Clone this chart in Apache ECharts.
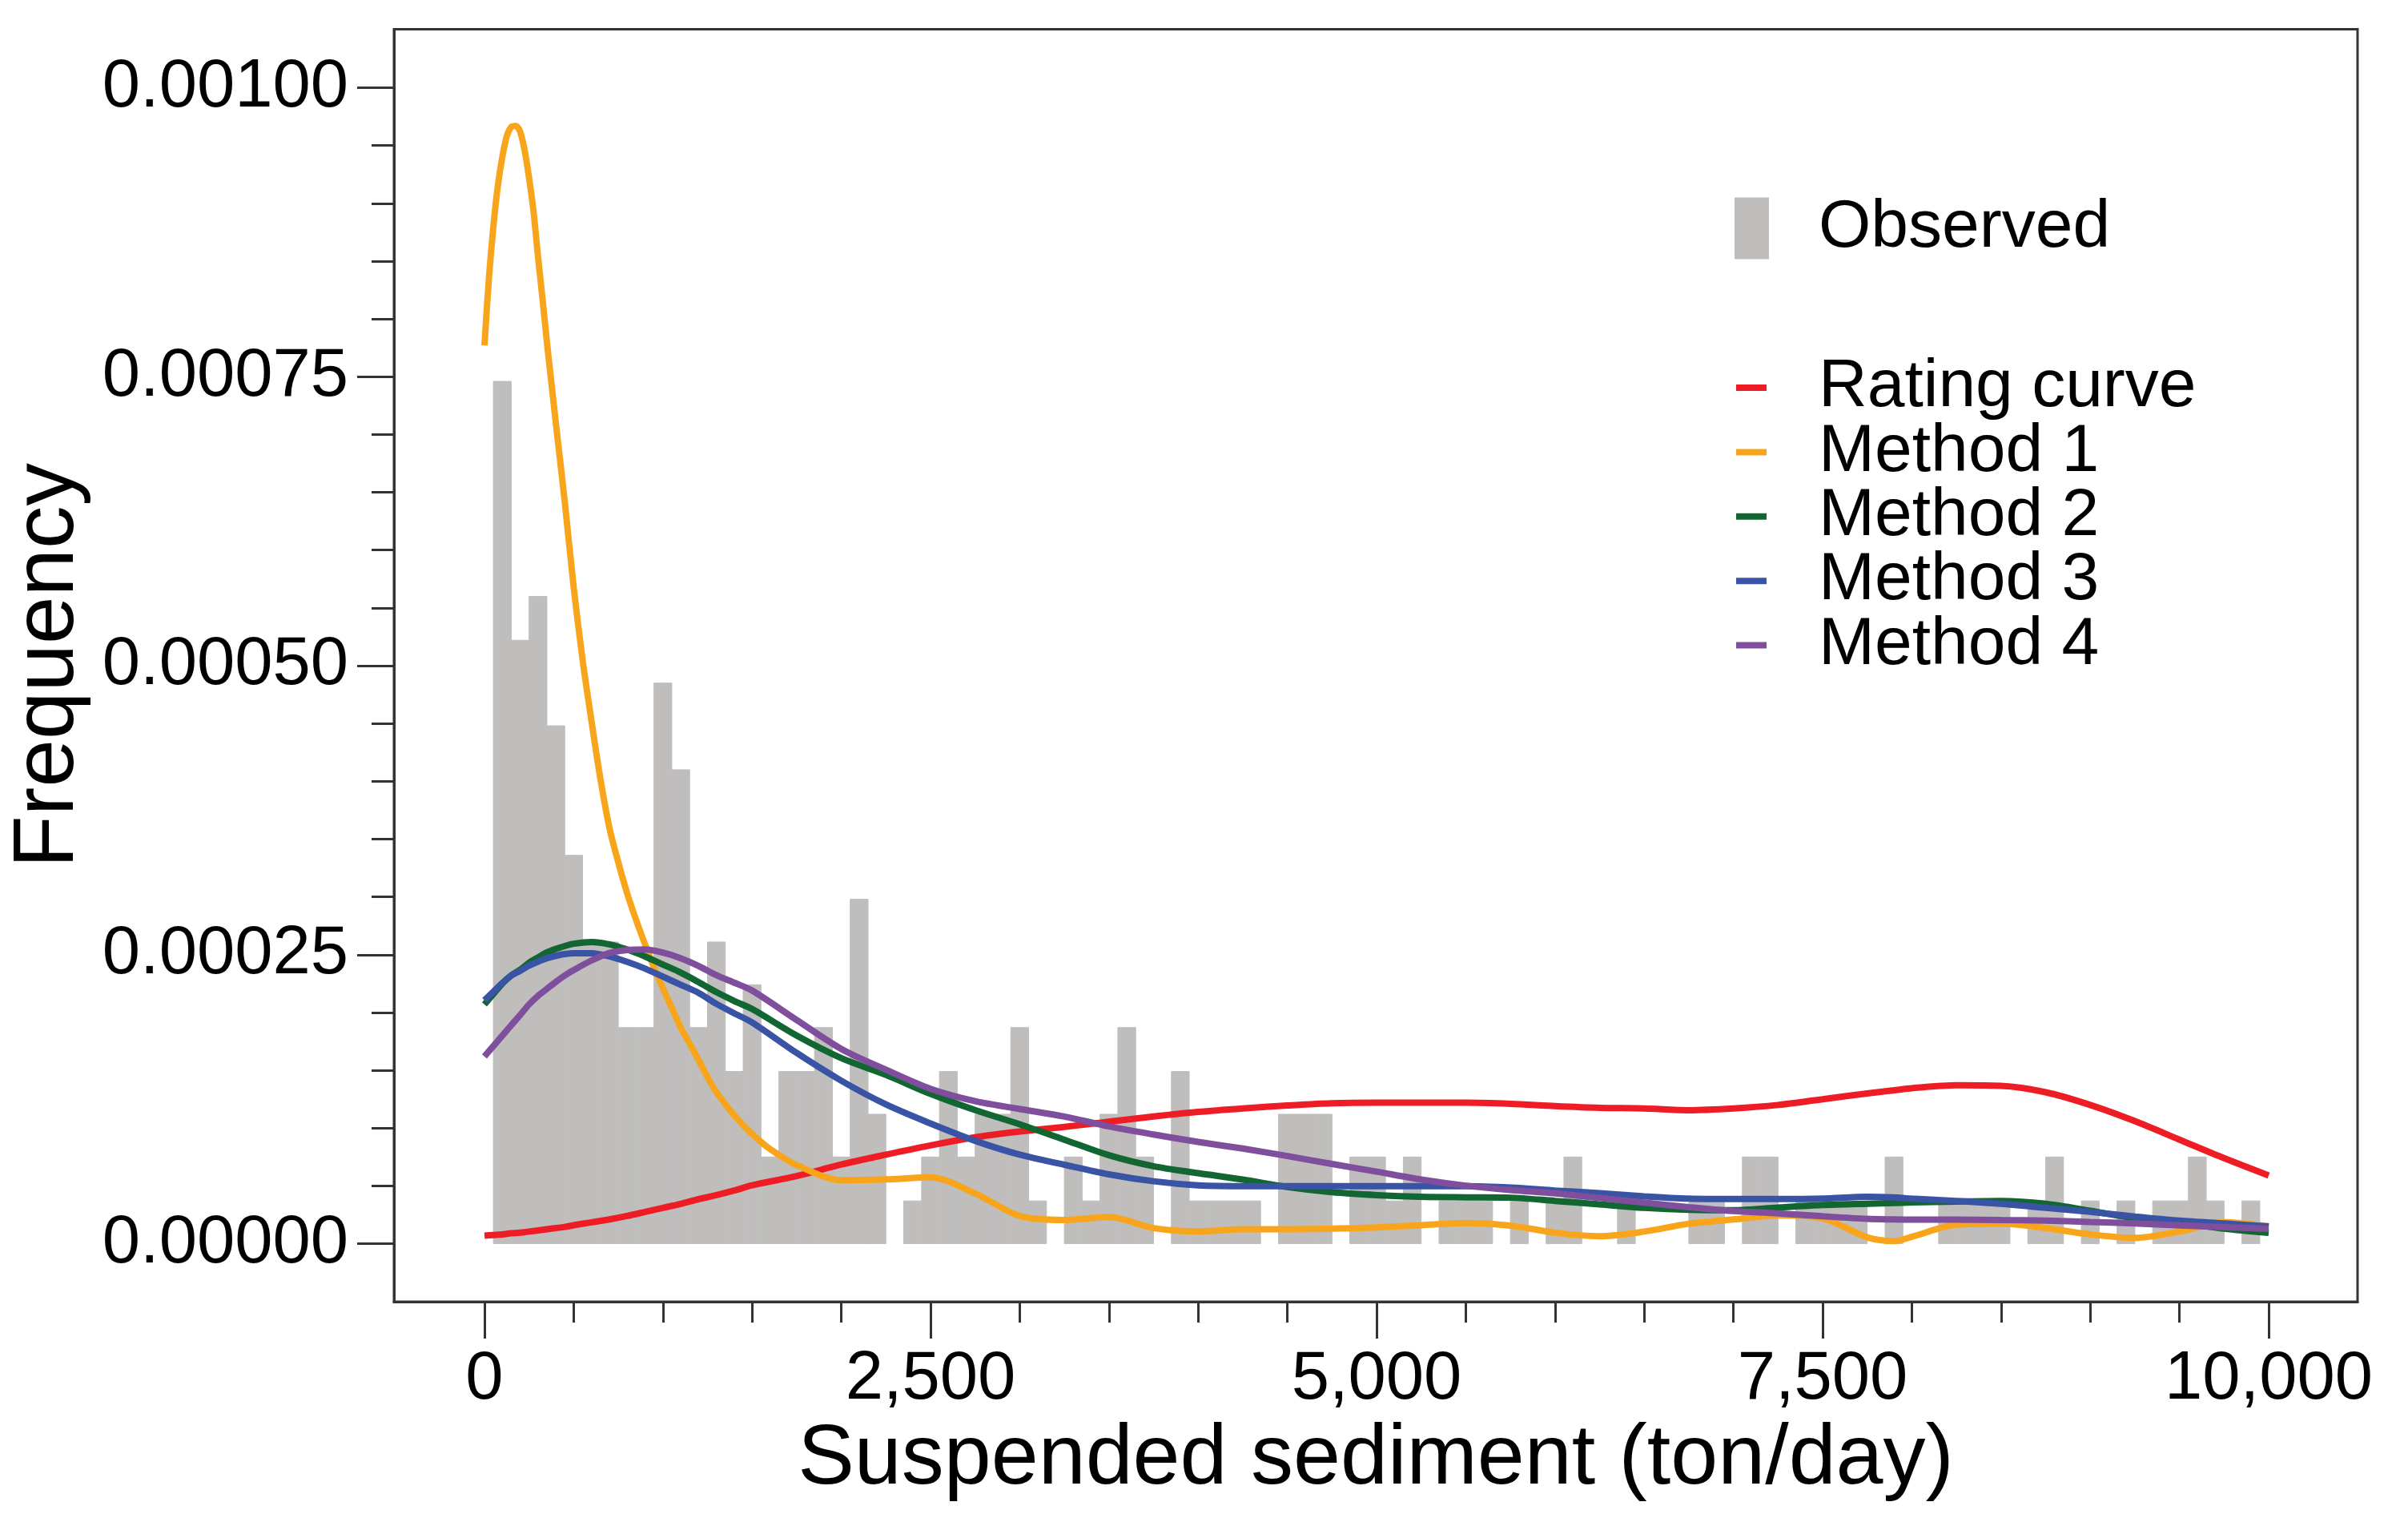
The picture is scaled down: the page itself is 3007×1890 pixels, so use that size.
<!DOCTYPE html>
<html>
<head>
<meta charset="utf-8">
<script src="https://cdn.jsdelivr.net/npm/echarts@6/dist/echarts.min.js"></script>
<style>
html,body{margin:0;padding:0;background:#ffffff;}
#chart{width:3007px;height:1890px;}
</style>
</head>
<body>
<div id="chart"></div>
<script>
// values of curves and bars are in units of 1e-6 (density)
const UNIT = 1e-6;

// x positions (ton/day) for the rating curve and methods 2-4
const xGrid = [0,50,100,150,200,250,300,350,400,450,500,
  600,700,800,900,1000,1100,1200,1300,1400,1500,
  1750,2000,2250,2500,2750,3000,3250,3500,3750,4000,4250,4500,4750,5000,5250,5500,5750,6000,6250,6500,6750,7000,7250,7500,7750,
  7900,
  8000,8250,8500,8750,9000,9250,9500,9750,10000];

const ratingCurve = [7,7.5,8,9,9.5,10.5,11.5,12.5,13.5,14.5,16,
  18.5,21,24,27.5,31,34.5,38.5,42,46,50.5,
  58.5,68.5,77,85,92,97,101,105.5,110,114,117,119.5,121.5,122,122,122,121,119,117.5,117,115.5,117,120,125,130,
  132.7,
  134.5,137,136.5,131,120,106,90,74,59];

const method2 = [207,216,225,232,237,243,247.6,252,255,257.5,259.5,
  261,259,254.5,248.5,241.5,234.5,226.3,217.6,210,203,
  180,160.5,146,129.6,115.6,103.3,90,76.5,67,61,55.5,49,44.5,42,40.5,40.1,39.8,37,34,31,29.3,29,31.3,33.4,34.6,
  35.2,
  35.7,36.5,37,34.5,28.5,22,18,13,9.3];

const method3 = [210.6,218,225.5,232,236,240.5,244,247,249,250.5,251.2,
  251.3,248.5,243.8,238,231,224,217,207.5,199.3,191.4,
  165,141,120.5,104,89,77,68.3,60,54,50.5,49.7,49.7,49.7,49.7,49.7,49.7,48.5,46,43.7,41,39,38.6,38.6,39,40.5,
  40,
  39,37,34.5,31,27.5,23.5,20,17.5,15];

const method4 = [162,171,180,189,197.8,207,214.4,220.5,226.5,232,236.7,
  245,251.5,254,254.5,251.8,247,240.3,232.3,225.8,219,
  193.5,168.5,150.5,134,123.3,116.5,110,101.5,94.5,88,82.3,75.8,69,62.3,55.5,50.2,46.4,43.5,39.5,35.5,31.5,28.2,26.2,23.7,21.5,
  21,
  20.8,20.8,20.4,20,18.8,17.5,15.8,14.3,12.8];

// Method 1 has its own, denser x positions around its sharp peak
const method1X = [0,25,50,75,100,125,150,175,200,225,250,275,300,325,350,375,400,450,500,
  550,600,650,700,750,800,850,900,950,1000,1050,1100,1150,1200,1250,1300,1400,1500,1600,
  1750,2000,2250,2500,2750,3000,3250,3500,3750,4000,4250,4500,4750,5000,5250,5500,5750,6000,6250,6500,6750,7000,7250,7500,7750,
  7900,
  8000,8250,8500,8750,9000,9250,9500,9750,10000];
const method1 = [777,835,880,915,940,958,966,967,962,946,922,893,854,818,780,745,710,642,568,
  505,452,402,360,330,303,280,259,239,221,204,187,173,159,144,131,111,95,82,
  68,55,55.7,57.3,43.5,24,20.5,23,13.5,10.6,12.5,12.5,13,14,16,17.8,15.7,9.5,6.5,10.5,17.3,21,24.5,22,5.5,
  2.3,
  6,16.5,17.4,13.5,8,5,10.5,18.5,15];

// histogram: bins of width 100 starting at 50
const binLow = 50;
const binWidth = 100;
const observed = [746,522,560,448,336,261,261,187,187,485,
  410,187,261,149,224,75,149,149,187,75,
  298,112,0,37,75,149,75,112,112,187,
  37,0,75,37,112,187,75,0,149,37,
  37,37,37,0,112,112,112,0,75,75,
  37,75,0,37,37,37,0,37,0,37,
  75,0,0,37,0,0,0,37,37,0,
  75,75,0,37,37,37,37,0,75,0,
  0,37,37,37,37,0,37,75,0,37,
  0,37,0,37,37,75,37,0,37];

const seriesNames = ['Observed','Rating curve','Method 1','Method 2','Method 3','Method 4'];
const xTicks = [0,2500,5000,7500,10000];
const yTicks = [0,0.00025,0.0005,0.00075,0.001];
const xMinorStep = 500;
const yMinorStep = 0.00005;

const xMinor = [];
for (let v = xTicks[0]; v <= xTicks[xTicks.length-1] + 1e-9; v += xMinorStep) xMinor.push(v);
const yMinor = [];
for (let i = 0; i * yMinorStep <= yTicks[yTicks.length-1] + 1e-12; i++) yMinor.push(+(i * yMinorStep).toFixed(6));

const FONT = '"Liberation Sans", Arial, sans-serif';
const AX = '#333333';
const colors = {
  bar: '#BFBEBD',
  rating: '#EE1D25',
  m1: '#F9A51B',
  m2: '#116631',
  m3: '#3A54A5',
  m4: '#7F4F9E'
};

const X_MIN = -507, X_MAX = 10498;
const Y_MIN = -0.0000502, Y_MAX = 0.0010506;

const barData = observed.map((v, i) => [binLow + i * binWidth, binLow + (i + 1) * binWidth, v * UNIT]);
function lineData(xs, arr) { return xs.map((x, i) => [x, arr[i] * UNIT]); }

function lineSeries(name, xs, arr, color) {
  return {
    name: name, type: 'line', data: lineData(xs, arr), showSymbol: false, symbol: 'none',
    smooth: 0.3, color: color,
    lineStyle: { width: 8, color: color }, itemStyle: { color: color },
    xAxisIndex: 0, yAxisIndex: 0, z: 3
  };
}

const chart = echarts.init(document.getElementById('chart'), null, { renderer: 'canvas' });
chart.setOption({
  animation: false,
  backgroundColor: '#ffffff',
  grid: { left: 492, top: 36.5, width: 2452, height: 1588.5, show: true, borderColor: AX, borderWidth: 3, containLabel: false },
  legend: [
    {
      data: [seriesNames[0]], orient: 'vertical', left: 2161, top: 238,
      icon: 'rect', itemWidth: 43, itemHeight: 77, selectedMode: false,
      textStyle: { fontSize: 84, fontFamily: FONT, color: '#000', lineHeight: 77, padding: [0, 0, 0, 57] }
    },
    {
      data: seriesNames.slice(1), orient: 'vertical', left: 2163, top: 437,
      icon: 'rect', itemWidth: 38, itemHeight: 8, itemGap: -3.6, selectedMode: false,
      textStyle: { fontSize: 84, fontFamily: FONT, color: '#000', lineHeight: 80, padding: [0, 0, 0, 60] }
    }
  ],
  xAxis: [
    {
      type: 'value', min: X_MIN, max: X_MAX, position: 'bottom',
      axisLine: { show: true, onZero: false, lineStyle: { color: AX, width: 3 } },
      axisTick: { show: true, customValues: xTicks, length: 46, lineStyle: { color: AX, width: 3 } },
      axisLabel: { show: true, customValues: xTicks, margin: 55, fontSize: 85, fontFamily: FONT, color: '#000',
        formatter: v => Number(v).toLocaleString('en-US') },
      splitLine: { show: false },
      name: 'Suspended sediment (ton/day)', nameLocation: 'middle', nameGap: 132,
      nameTextStyle: { fontSize: 106, fontFamily: FONT, color: '#000' }
    },
    {
      type: 'value', min: X_MIN, max: X_MAX, position: 'bottom',
      axisLine: { show: false, onZero: false },
      axisTick: { show: true, customValues: xMinor, length: 26, lineStyle: { color: AX, width: 3 } },
      axisLabel: { show: false },
      splitLine: { show: false }
    }
  ],
  yAxis: [
    {
      type: 'value', min: Y_MIN, max: Y_MAX, position: 'left',
      axisLine: { show: true, onZero: false, lineStyle: { color: AX, width: 3 } },
      axisTick: { show: true, customValues: yTicks, length: 46, lineStyle: { color: AX, width: 3 } },
      axisLabel: { show: true, customValues: yTicks, margin: 57, fontSize: 85, fontFamily: FONT, color: '#000',
        formatter: v => Number(v).toFixed(5) },
      splitLine: { show: false },
      name: 'Frequency', nameLocation: 'middle', nameGap: 377,
      nameTextStyle: { fontSize: 107, fontFamily: FONT, color: '#000' }
    },
    {
      type: 'value', min: Y_MIN, max: Y_MAX, position: 'left',
      axisLine: { show: false, onZero: false },
      axisTick: { show: true, customValues: yMinor, length: 28, lineStyle: { color: AX, width: 3 } },
      axisLabel: { show: false },
      splitLine: { show: false }
    }
  ],
  series: [
    {
      name: seriesNames[0], type: 'custom', xAxisIndex: 0, yAxisIndex: 0, z: 2,
      color: colors.bar, itemStyle: { color: colors.bar },
      data: barData,
      encode: { x: [0, 1], y: 2 },
      renderItem: function (params, api) {
        const p0 = api.coord([api.value(0), api.value(2)]);
        const p1 = api.coord([api.value(1), 0]);
        return {
          type: 'rect',
          shape: { x: p0[0], y: p0[1], width: p1[0] - p0[0], height: p1[1] - p0[1] },
          style: { fill: colors.bar, stroke: api.value(2) > 0 ? colors.bar : null, lineWidth: 1 }
        };
      }
    },
    lineSeries(seriesNames[1], xGrid, ratingCurve, colors.rating),
    lineSeries(seriesNames[2], method1X, method1, colors.m1),
    lineSeries(seriesNames[3], xGrid, method2, colors.m2),
    lineSeries(seriesNames[4], xGrid, method3, colors.m3),
    lineSeries(seriesNames[5], xGrid, method4, colors.m4)
  ]
});
</script>
</body>
</html>
